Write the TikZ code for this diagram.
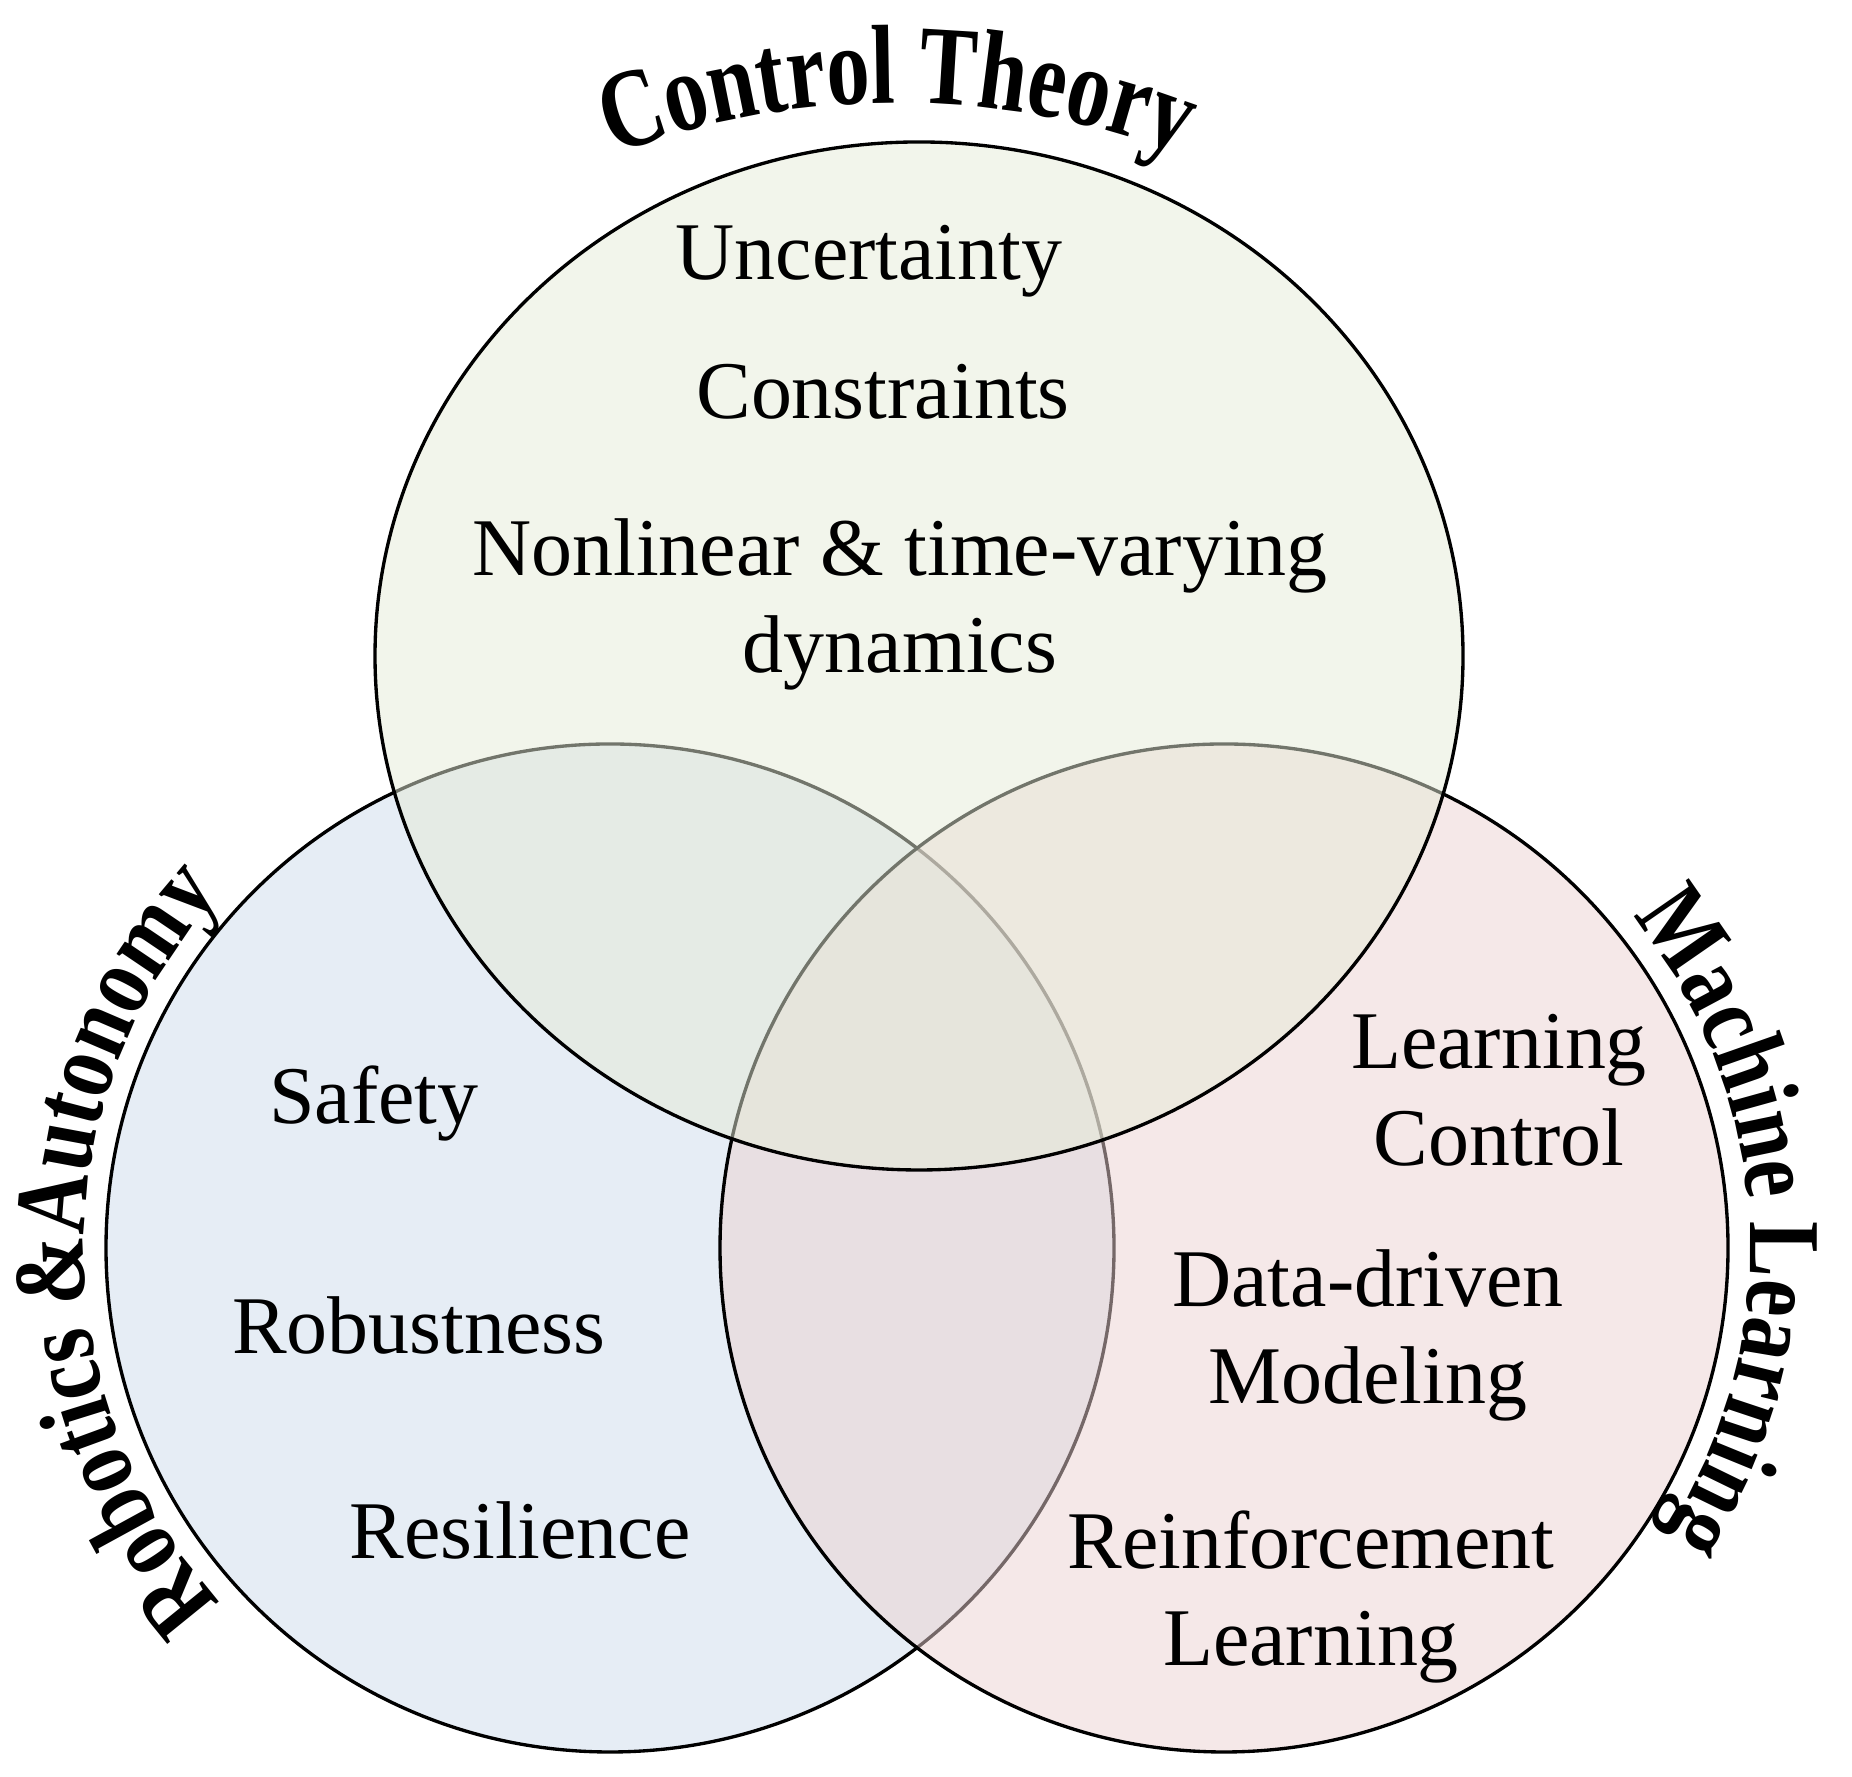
\documentclass[tikz,border=0pt]{standalone}
\usepackage{fontspec}
\setmainfont{Liberation Serif}
\newfontfamily\arcfont[FakeStretch=0.77]{Liberation Serif}
\newfontfamily\rimfont[FakeStretch=0.82]{Liberation Serif}
\usepackage{tikz}
\usetikzlibrary{decorations.text}
\definecolor{CTGreen}{RGB}{229,235,215}
\definecolor{RABlue}{RGB}{205,219,235}
\definecolor{MLRed}{RGB}{235,209,209}

\begin{document}
\begin{tikzpicture}[x=0.01cm, y=0.01cm,
    field/.style={draw=black, line width=0.95pt, fill opacity=0.5},
    item/.style={font=\fontsize{23.3}{27.6}\selectfont, align=center, inner sep=0pt},
    arclabel/.style={decorate, decoration={text along path, text align=center,
        text format delimiters={|}{|},
        text={|\arcfont\bfseries\fontsize{32}{32}\selectfont|#1}}},
    rimlabel/.style={decorate, decoration={text along path, text align=center,
        text format delimiters={|}{|},
        text={|\rimfont\bfseries\fontsize{29}{29}\selectfont|#1}}}
  ]
  \useasboundingbox (0,0) rectangle (1852,1777);

  % the three fields (top one last)
  \draw[field, fill=RABlue] (610,529) circle[radius=504];
  \draw[field, fill=MLRed]  (1224,529) circle[radius=504];
  \draw[field, fill=CTGreen] (919,1121) ellipse[x radius=544, y radius=514];

  % field titles along the rims
  \path[arclabel={Control Theory}]
    ([shift={(897,874)}]130:800) arc[start angle=130, end angle=50, radius=800];
  \path[rimlabel={Robotics {\&}Autonomy}]
    ([shift={(610,529)}]245:526) arc[start angle=245, end angle=115, radius=526];
  \path[rimlabel={Machine Learning}]
    ([shift={(1224,529)}]63:526) arc[start angle=63, end angle=-57, radius=526];

  % Control Theory
  \node[item] (unc) at (869,1516) {Uncertainty};
  \node[item] (con) at (883,1385) {Constraints};
  \node[item] (dyn) at (900,1173) {Nonlinear \& time-varying\\dynamics};

  % Robotics & Autonomy
  \node[item] (saf) at (374,673) {Safety};
  \node[item] (rob) at (419,452) {Robustness};
  \node[item] (res) at (520,247) {Resilience};

  % Machine Learning
  \node[item] (lc)  at (1499,687) {Learning\\Control};
  \node[item] (ddm) at (1368,442) {Data-driven\\Modeling};
  \node[item] (rl)  at (1311,180) {Reinforcement\\Learning};
\end{tikzpicture}
\end{document}
